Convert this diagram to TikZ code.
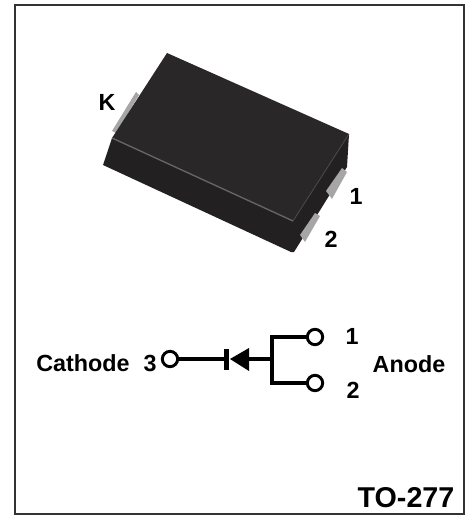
\documentclass[tikz,border=0pt]{standalone}
\usepackage{fontspec}
\setmainfont{Liberation Sans}
\usetikzlibrary{positioning}
\definecolor{bodydark}{HTML}{2A2728}
\definecolor{bodyside}{HTML}{232021}
\definecolor{padgray}{HTML}{A6A6A6}
\tikzset{lbl/.style={font=\fontsize{17.5}{20}\selectfont\bfseries, inner sep=0pt}}
\tikzset{pin/.style={circle, draw, line width=2.2pt, minimum size=11.5pt, inner sep=0pt, fill=white}}
\tikzset{wire/.style={draw, line width=2.3pt, line cap=butt}}
\begin{document}
\begin{tikzpicture}[x=0.75pt, y=-0.75pt]
    \useasboundingbox (0,0) rectangle (470,516);
    \draw[line width=2pt, draw=black!80] (15,5) rectangle (464,514);
    % package
    \fill[padgray] (112,131) -- (136,92) -- (139,95) -- (116,133) -- cycle;
    \fill[bodyside] (112,138) -- (103,165) -- (291,252) -- (294,252) -- (347,167) -- (349,134) -- cycle;
    \fill[bodydark] (167,53) -- (349,134) -- (293,221) -- (112,138) -- cycle;
    \fill[padgray] (342,168) -- (347,172) -- (332,199) -- (326,191) -- cycle;
    \fill[padgray] (315,213) -- (320,216) -- (305,242) -- (300,235) -- cycle;
    \draw[line width=1pt, draw=black!60] (112,138) -- (293,221);
    \draw[line width=0.6pt, draw=black!70] (293,221) -- (349,134);
    % labels on the package
    \node[lbl] (k) at (107,102) {K};
    \node[lbl] (one) at (356,196) {1};
    \node[lbl] (two) at (331,239) {2};
    % schematic
    \node[lbl] (cathode) at (83,363) {Cathode};
    \node[lbl] (three) at (150,363) {3};
    \node[pin] (c) at (170,359) {};
    \node[pin] (a) at (315,337) {};
    \node[pin] (b) at (315,383) {};
    \node[lbl] (n) at (352,336) {1};
    \node[lbl] (m) at (353,390) {2};
    \node[lbl] (anode) at (409,364) {Anode};
    \coordinate (bar) at (226,359);
    \coordinate (base) at (249,359);
    \coordinate (split) at (272,359);
    \draw[wire] (c) -- (bar);
    \draw[line width=3.75pt] (226,349) -- (226,370);
    \fill (230,359) -- (249,348) -- (249,371) -- cycle;
    \draw[wire] (base) -- (split);
    \draw[wire] (a) -| (split) |- (b);
    \node[font=\fontsize{21.5}{25}\selectfont\bfseries, inner sep=0pt] (pkg) at (406,498) {TO-277};
\end{tikzpicture}
\end{document}
